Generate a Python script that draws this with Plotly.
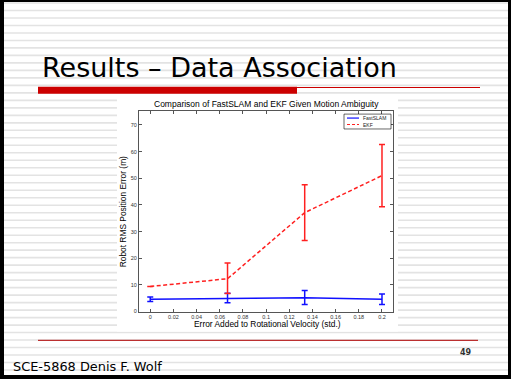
import plotly.graph_objects as go

W, H = 511, 382

# ---- data ----
x_vals = [0, 0.0667, 0.1333, 0.2]
fast_y = [4.6, 5.0, 5.2, 4.6]
fast_plus = [0.9, 1.9, 2.7, 2.0]
fast_minus = [0.8, 1.7, 2.6, 2.0]
ekf_y = [9.4, 12.3, 37.1, 51.0]
ekf_plus = [0, 5.9, 10.5, 11.7]
ekf_minus = [0, 5.5, 10.4, 11.7]
series_names = ["FastSLAM", "EKF"]
x_ticks = [0, 0.02, 0.04, 0.06, 0.08, 0.1, 0.12, 0.14, 0.16, 0.18, 0.2]
x_ticklabels = ["0", "0.02", "0.04", "0.06", "0.08", "0.1", "0.12", "0.14", "0.16", "0.18", "0.2"]
y_ticks = [0, 10, 20, 30, 40, 50, 60, 70]

BLUE = "#1010ff"
RED = "#ff2020"


def px(x):
    return x / W


def py(y):
    return 1 - y / H


fig = go.Figure()
fig.add_trace(go.Scatter(
    x=x_vals, y=fast_y, name=series_names[0], mode="lines",
    line=dict(color=BLUE, width=1.5),
    error_y=dict(type="data", array=fast_plus, arrayminus=fast_minus,
                 color=BLUE, thickness=1.5, width=3),
))
fig.add_trace(go.Scatter(
    x=x_vals, y=ekf_y, name=series_names[1], mode="lines",
    line=dict(color=RED, width=1.5, dash="4px,2.5px"),
    error_y=dict(type="data", array=ekf_plus, arrayminus=ekf_minus,
                 color=RED, thickness=1.5, width=3),
))

shapes = []
# striped background
y = 3.0
while y < H:
    shapes.append(dict(type="line", xref="paper", yref="paper",
                       x0=0, x1=1, y0=py(y), y1=py(y),
                       line=dict(color="#e3e3e3", width=1.6), layer="below"))
    y += 7.55
# chart image white panel
shapes.append(dict(type="rect", xref="paper", yref="paper",
                   x0=px(117), x1=px(398), y0=py(334), y1=py(97),
                   fillcolor="white", line=dict(width=0), layer="below"))
# red title bar
shapes.append(dict(type="rect", xref="paper", yref="paper",
                   x0=px(38), x1=px(297), y0=py(94.5), y1=py(87.5),
                   fillcolor="#cc0000", line=dict(width=0), layer="below"))
shapes.append(dict(type="line", xref="paper", yref="paper",
                   x0=px(297), x1=px(480), y0=py(88.2), y1=py(88.2),
                   line=dict(color="#cc0000", width=1), layer="below"))
# bottom red line
shapes.append(dict(type="line", xref="paper", yref="paper",
                   x0=px(38), x1=px(478), y0=py(343), y1=py(343),
                   line=dict(color="#b00000", width=1), layer="below"))
# black frame
for (x0, x1, y0, y1) in [(0, 4, 0, H), (508, W, 0, H), (0, W, 0, 2), (0, W, 378, H)]:
    shapes.append(dict(type="rect", xref="paper", yref="paper",
                       x0=px(x0), x1=px(x1), y0=py(y1), y1=py(y0),
                       fillcolor="black", line=dict(width=0), layer="above"))
# legend box (manual, compact like the original)
shapes.append(dict(type="rect", xref="paper", yref="paper",
                   x0=px(344), x1=px(391), y0=py(130), y1=py(115),
                   fillcolor="white", line=dict(color="black", width=0.6), layer="above"))
shapes.append(dict(type="line", xref="paper", yref="paper",
                   x0=px(347), x1=px(359), y0=py(119), y1=py(119),
                   line=dict(color=BLUE, width=1.2), layer="above"))
shapes.append(dict(type="line", xref="paper", yref="paper",
                   x0=px(347), x1=px(359), y0=py(125.5), y1=py(125.5),
                   line=dict(color=RED, width=1.2, dash="3px,2px"), layer="above"))

annotations = [
    dict(text="Results \u2013 Data Association", x=px(40), y=py(68), xref="paper", yref="paper",
         xanchor="left", yanchor="middle", showarrow=False,
         font=dict(family="DejaVu Sans", size=27, color="black")),
    dict(text="SCE-5868 Denis F. Wolf", x=px(11), y=py(369), xref="paper", yref="paper",
         xanchor="left", yanchor="middle", showarrow=False,
         font=dict(family="DejaVu Sans", size=12.9, color="black")),
    dict(text="<b>49</b>", x=px(466), y=py(355), xref="paper", yref="paper",
         xanchor="center", yanchor="middle", showarrow=False,
         font=dict(family="DejaVu Sans", size=8, color="#333")),
    dict(text="Comparison of FastSLAM and EKF Given Motion Ambiguity", x=px(266), y=py(104.5),
         xref="paper", yref="paper", xanchor="center", yanchor="middle", showarrow=False,
         font=dict(family="Liberation Sans", size=8.5, color="black")),
    dict(text="Error Added to Rotational Velocity (std.)", x=px(267), y=py(326.5),
         xref="paper", yref="paper", xanchor="center", yanchor="middle", showarrow=False,
         font=dict(family="Liberation Sans", size=8.4, color="black")),
    dict(text="Robot RMS Position Error (m)", x=px(123), y=py(214),
         xref="paper", yref="paper", xanchor="center", yanchor="middle", showarrow=False,
         textangle=-90, font=dict(family="Liberation Sans", size=8.4, color="black")),
    dict(text=series_names[0], x=px(361), y=py(119), xref="paper", yref="paper",
         xanchor="left", yanchor="middle", showarrow=False,
         font=dict(family="Liberation Sans", size=5, color="#222")),
    dict(text=series_names[1], x=px(361), y=py(125.5), xref="paper", yref="paper",
         xanchor="left", yanchor="middle", showarrow=False,
         font=dict(family="Liberation Sans", size=5, color="#222")),
]

fig.update_layout(
    width=W, height=H,
    margin=dict(l=0, r=0, t=0, b=0),
    paper_bgcolor="white", plot_bgcolor="white",
    shapes=shapes, annotations=annotations,
    showlegend=False,
    xaxis=dict(domain=[px(139), px(393)], range=[-0.0097, 0.2095],
               tickvals=x_ticks, ticktext=x_ticklabels,
               ticks="inside", ticklen=3, tickcolor="#555", mirror="ticks",
               showline=True, linecolor="#555", linewidth=1, showgrid=False, zeroline=False,
               tickfont=dict(family="Liberation Sans", size=5.5, color="#333")),
    yaxis=dict(domain=[py(314), py(112)], range=[0, 75.2],
               tickvals=y_ticks,
               ticks="inside", ticklen=3, tickcolor="#555", mirror="ticks",
               showline=True, linecolor="#555", linewidth=1, showgrid=False, zeroline=False,
               tickfont=dict(family="Liberation Sans", size=5.5, color="#333")),
)

fig.write_html("out.html", config={"displayModeBar": False},
               post_script="document.body.style.margin='0';document.body.style.overflow='hidden';")
